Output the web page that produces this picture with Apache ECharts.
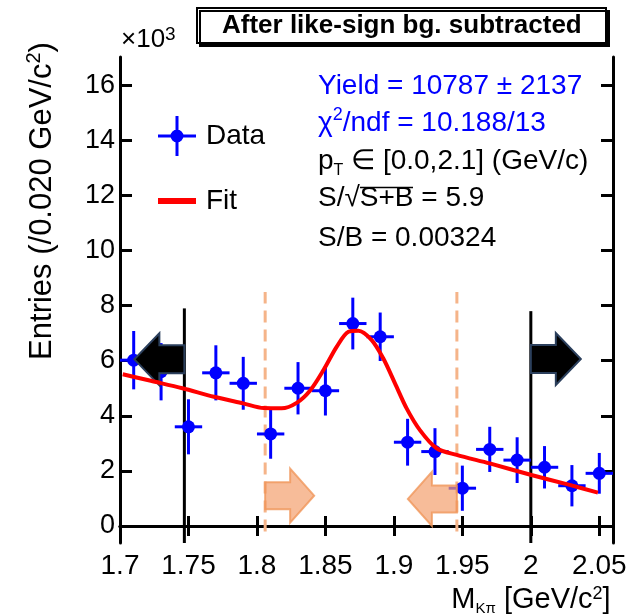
<!DOCTYPE html>
<html>
<head>
<meta charset="utf-8">
<script src="https://cdn.jsdelivr.net/npm/echarts@6/dist/echarts.min.js"></script>
<style>
  html, body { margin: 0; padding: 0; background: #fff; }
  #chart { width: 631px; height: 615px; }
</style>
</head>
<body>
<div id="chart"></div>
<script>
// D0 -> K pi invariant mass, like-sign background subtracted
var massBins = [1.71, 1.73, 1.75, 1.77, 1.79, 1.81, 1.83, 1.85, 1.87, 1.89,
                1.91, 1.93, 1.95, 1.97, 1.99, 2.01, 2.03, 2.05];
var entries = [6020, 5600, 3600, 5560, 5180, 3340, 5000, 4910, 7350, 6870,
               3040, 2700, 1370, 2780, 2390, 2130, 1460, 1910];
var entryErrors = [1060, 1040, 1000, 1000, 960, 900, 950, 900, 940, 880,
                   850, 850, 820, 820, 830, 770, 750, 740];
var binHalfWidth = 0.01;

// fit curve
var fitMass = [1.702, 1.7225, 1.7456, 1.7686, 1.790, 1.805, 1.818, 1.829, 1.839, 1.8486,
               1.8583, 1.8668, 1.8741, 1.8838, 1.8923, 1.9008, 1.9093, 1.919, 1.9312,
               1.9458, 1.97, 2.0004, 2.0283, 2.049];
var fitEntries = [5510, 5270, 5000, 4690, 4450, 4280, 4270, 4470, 4930, 5660,
                  6510, 7050, 7090, 6750, 6080, 5180, 4270, 3480, 2820,
                  2580, 2270, 1850, 1490, 1210];

var entryTicks = [0, 2000, 4000, 6000, 8000, 10000, 12000, 14000, 16000];

// [mass, low, high]
var cutLines = [[1.747, -620, 7900], [2.0, -620, 7800]];
var sidebandLines = [[1.806, -200, 8500], [1.946, -200, 8500]];
// [mass, entries, direction]
var cutArrows = [[1.747, 6050, -1], [2.0, 6060, 1]];
var sidebandArrows = [[1.806, 1100, 1], [1.946, 980, -1]];

var FONT = 'Liberation Sans';

var chartDom = document.getElementById('chart');
var myChart = echarts.init(chartDom);

function renderPoint(params, api) {
  var x = api.value(0), y = api.value(1), e = api.value(2);
  var c = api.coord([x, y]);
  var top = api.coord([x, y + e]);
  var bot = api.coord([x, y - e]);
  var l = api.coord([x - binHalfWidth, y]);
  var r = api.coord([x + binHalfWidth, y]);
  return {
    type: 'group',
    children: [
      { type: 'line', shape: { x1: c[0], y1: top[1], x2: c[0], y2: bot[1] }, style: { stroke: '#0000ff', lineWidth: 3 } },
      { type: 'line', shape: { x1: l[0], y1: c[1], x2: r[0], y2: c[1] }, style: { stroke: '#0000ff', lineWidth: 3 } },
      { type: 'circle', shape: { cx: c[0], cy: c[1], r: 6.5 }, style: { fill: '#0000ff' } }
    ]
  };
}

function lineRenderer(color, dash) {
  return function (params, api) {
    var a = api.coord([api.value(0), api.value(1)]);
    var b = api.coord([api.value(0), api.value(2)]);
    return {
      type: 'line',
      shape: { x1: a[0], y1: a[1], x2: b[0], y2: b[1] },
      style: { stroke: color, lineWidth: 3, lineDash: dash }
    };
  };
}

function arrowRenderer(fill, stroke, len, headLen, shaft, head) {
  return function (params, api) {
    var p = api.coord([api.value(0), api.value(1)]);
    var d = api.value(2);
    var tail = p[0], hb = p[0] + d * (len - headLen), tip = p[0] + d * len, y = p[1];
    return {
      type: 'polygon',
      shape: { points: [[tail, y - shaft], [hb, y - shaft], [hb, y - head], [tip, y],
                        [hb, y + head], [hb, y + shaft], [tail, y + shaft]] },
      style: { fill: fill, stroke: stroke, lineWidth: 2 }
    };
  };
}

var pointData = massBins.map(function (m, i) { return [m, entries[i], entryErrors[i]]; });
var fitData = fitMass.map(function (m, i) { return [m, fitEntries[i]]; });

var axisLineStyle = { color: '#000', width: 3 };
var tickStyle = { color: '#000', width: 3 };

function textLine(x, y, text, color) {
  return {
    type: 'text', x: x, y: y, z: 10,
    style: {
      text: text, fill: color, fontFamily: FONT, fontSize: 28, lineHeight: 34,
      align: 'left', verticalAlign: 'top',
      rich: {
        sup: { fontSize: 18, lineHeight: 24, verticalAlign: 'top', fill: color, fontFamily: FONT },
        sub: { fontSize: 16, lineHeight: 4, verticalAlign: 'bottom', fill: color, fontFamily: FONT }
      }
    }
  };
}

var option = {
  animation: false,
  textStyle: { fontFamily: FONT },
  title: {
    text: 'After like-sign bg. subtracted',
    left: 197, top: 8,
    padding: [4, 25],
    backgroundColor: '#fff',
    borderColor: '#000', borderWidth: 2,
    shadowColor: '#000', shadowBlur: 0, shadowOffsetX: 3, shadowOffsetY: 3,
    textStyle: { fontSize: 26, fontWeight: 'bold', color: '#000', lineHeight: 27, fontFamily: FONT }
  },
  legend: [
    {
      data: [{ name: 'Data', icon: 'path://M17.5,0h3v40h-3z M0,18.5h38v3h-38z M25.5,20a6.5,6.5 0 1 1 -13,0a6.5,6.5 0 1 1 13,0z' }],
      left: 158, top: 116, padding: 0,
      itemWidth: 38, itemHeight: 40,
      selectedMode: false,
      textStyle: { fontSize: 28, color: '#000', padding: [9, 0, 0, 5], fontFamily: FONT }
    },
    {
      data: [{ name: 'Fit', icon: 'rect' }],
      left: 158, top: 187, padding: 0,
      itemWidth: 38, itemHeight: 6,
      selectedMode: false,
      textStyle: { fontSize: 28, color: '#000', padding: [7, 0, 0, 5], fontFamily: FONT }
    }
  ],
  grid: { left: 120, right: 18, top: 57, bottom: 72, containLabel: false, outerBoundsMode: 'none' },
  xAxis: [
    {
      type: 'value', position: 'bottom', min: 1.7, max: 2.06, interval: 0.05,
      axisLine: { lineStyle: axisLineStyle },
      axisTick: { inside: true, length: 10, lineStyle: tickStyle },
      splitLine: { show: false },
      axisLabel: {
        interval: 0, margin: 9, fontSize: 28, color: '#000', fontFamily: FONT,
        formatter: function (v) { return v > 2.055 ? '' : String(+v.toFixed(2)); }
      },
      name: 'M{sub|Kπ} [GeV/c{sup|2}]',
      nameLocation: 'middle', nameGap: 39,
      nameTextStyle: {
        fontSize: 29, lineHeight: 31, color: '#000',
        padding: [0, 0, 0, 329], fontFamily: FONT,
        rich: {
          sub: { fontSize: 15, lineHeight: 16, verticalAlign: 'bottom', fontFamily: FONT },
          sup: { fontSize: 18, lineHeight: 18, verticalAlign: 'top', fontFamily: FONT }
        }
      }
    },
    {
      type: 'value', position: 'top', min: 1.7, max: 2.06, interval: 0.05,
      axisLine: { lineStyle: axisLineStyle },
      axisTick: { inside: true, length: 10, lineStyle: tickStyle },
      splitLine: { show: false },
      axisLabel: { show: false }
    }
  ],
  yAxis: [
    {
      type: 'value', position: 'left', min: -620, max: 17030,
      axisLine: { show: true, lineStyle: axisLineStyle },
      axisTick: { show: true, inside: true, length: 12, lineStyle: tickStyle, customValues: entryTicks },
      splitLine: { show: false },
      axisLabel: {
        margin: 5, fontSize: 27, color: '#000', fontFamily: FONT, customValues: entryTicks,
        formatter: function (v) { return String(Math.round(v / 1000)); }
      },
      name: 'Entries (/0.020 GeV/c{sup|2})',
      nameLocation: 'middle', nameGap: 60, nameRotate: 90,
      nameTextStyle: {
        fontSize: 31, lineHeight: 36, color: '#000', padding: [0, 0, 0, 198], fontFamily: FONT,
        rich: { sup: { fontSize: 20, lineHeight: 24, verticalAlign: 'top', fontFamily: FONT } }
      }
    },
    {
      type: 'value', position: 'right', min: -620, max: 17030,
      axisLine: { show: true, lineStyle: axisLineStyle },
      axisTick: { show: true, inside: true, length: 12, lineStyle: tickStyle, customValues: entryTicks },
      splitLine: { show: false },
      axisLabel: { show: false }
    }
  ],
  graphic: [
    {
      type: 'text', x: 121, y: 25,
      style: {
        text: '×10{sup|3}', fill: '#000', fontFamily: FONT, fontSize: 26, lineHeight: 30,
        align: 'left', verticalAlign: 'top',
        rich: { sup: { fontSize: 19, lineHeight: 6, verticalAlign: 'top', fill: '#000', fontFamily: FONT } }
      }
    },
    textLine(318, 69.5, 'Yield = 10787 ± 2137', '#0000ff'),
    textLine(318, 106.5, 'χ{sup|2}/ndf = 10.188/13', '#0000ff'),
    textLine(318, 144.5, 'p{sub|T} ∈ [0.0,2.1] (GeV/c)', '#000'),
    textLine(318, 181.5, 'S/√S+B = 5.9', '#000'),
    {
      type: 'line', z: 10,
      shape: { x1: 360, y1: 187.5, x2: 413, y2: 187.5 },
      style: { stroke: '#000', lineWidth: 1.5 }
    },
    textLine(318, 221.5, 'S/B = 0.00324', '#000')
  ],
  series: [
    {
      name: 'Cuts', type: 'custom', z: 1,
      renderItem: lineRenderer('#000', null),
      encode: { x: 0, y: [1, 2] },
      data: cutLines
    },
    {
      name: 'Sidebands', type: 'custom', z: 1,
      renderItem: lineRenderer('#f5b489', [12, 7]),
      encode: { x: 0, y: [1, 2] },
      data: sidebandLines
    },
    {
      name: 'Data', type: 'custom', z: 2,
      itemStyle: { color: '#0000ff' },
      renderItem: renderPoint,
      encode: { x: 0, y: 1 },
      data: pointData
    },
    {
      name: 'Cut arrows', type: 'custom', z: 3,
      renderItem: arrowRenderer('#000', '#2b3f5c', 50, 25, 14, 26),
      encode: { x: 0, y: 1 },
      data: cutArrows
    },
    {
      name: 'Sideband arrows', type: 'custom', z: 3,
      renderItem: arrowRenderer('rgba(244,160,110,0.7)', 'rgba(240,150,90,0.8)', 49, 24, 13.5, 27),
      encode: { x: 0, y: 1 },
      data: sidebandArrows
    },
    {
      name: 'Fit', type: 'line', z: 4,
      showSymbol: false, smooth: 0.3,
      itemStyle: { color: '#ff0000' },
      lineStyle: { color: '#ff0000', width: 4 },
      data: fitData
    }
  ]
};

option && myChart.setOption(option);
</script>
</body>
</html>
